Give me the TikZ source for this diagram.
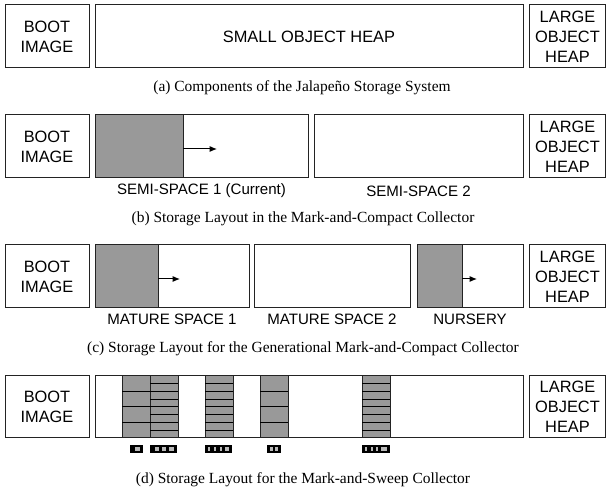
\documentclass[tikz,border=0pt]{standalone}
\usepackage{fontspec}
\setmainfont{Liberation Serif}
\newfontfamily\arialf{Liberation Sans}
\usetikzlibrary{arrows.meta}
\definecolor{fillgrey}{RGB}{153,153,153}
\definecolor{edge}{RGB}{35,35,35}
\definecolor{slit}{RGB}{185,185,185}
\begin{document}
\begin{tikzpicture}[x=0.75pt,y=-0.75pt,
  box/.style={draw=edge, line width=0.75pt, fill=white},
  greyfill/.style={fill=fillgrey, draw=edge, line width=0.75pt},
  txt/.style={font=\arialf\fontsize{12.3}{15}\selectfont, align=center, inner sep=0pt},
  lbl/.style={font=\arialf\fontsize{11.3}{13}\selectfont, inner sep=0pt},
  captxt/.style={font=\fontsize{11.6}{14}\selectfont, inner sep=0pt},
  arr/.style={-{Latex[length=5.5pt,width=4.5pt]}, line width=0.75pt},
  cellline/.style={draw=black, line width=0.75pt},
  markbar/.style={fill=black},
  markslit/.style={fill=slit}
]
\useasboundingbox (0,0) rectangle (607,491);

% (a)
\path[box] (5,5) rectangle (89,68);
\node[txt] (bootA) at (47,36.5) {BOOT\\IMAGE};
\path[box] (95,5) rectangle (523,68);
\node[txt] (smallA) at (309,36.5) {SMALL OBJECT HEAP};
\path[box] (529,5) rectangle (605.5,68);
\node[txt] (largeA) at (567.5,36.5) {LARGE\\OBJECT\\HEAP};
\node[captxt] (capA) at (302,88) {(a) Components of the Jalapeño Storage System};

% (b)
\path[box] (5,115) rectangle (89,178);
\node[txt] (bootB) at (47,146.5) {BOOT\\IMAGE};
\path[box] (95,115) rectangle (308,178);
\path[greyfill] (95,115) rectangle (183,178);
\coordinate (arrBs) at (183,149);
\coordinate (arrBe) at (217,149);
\draw[arr] (arrBs) -- (arrBe);
\path[box] (314,115) rectangle (523,178);
\path[box] (529,115) rectangle (605.5,178);
\node[txt] (largeB) at (567.5,146.5) {LARGE\\OBJECT\\HEAP};
\node[lbl] (semi1) at (201.5,191) {SEMI-SPACE 1 (Current)};
\node[lbl] (semi2) at (418.5,191) {SEMI-SPACE 2};
\node[captxt] (capB) at (303,219) {(b) Storage Layout in the Mark-and-Compact Collector};

% (c)
\path[box] (5,245) rectangle (89,308);
\node[txt] (bootC) at (47,276.5) {BOOT\\IMAGE};
\path[box] (95,245) rectangle (249,308);
\path[greyfill] (95,245) rectangle (158,308);
\coordinate (arrCs) at (158,279);
\coordinate (arrCe) at (180,279);
\draw[arr] (arrCs) -- (arrCe);
\path[box] (254,245) rectangle (410,308);
\path[box] (417,245) rectangle (523,308);
\path[greyfill] (417,245) rectangle (462,308);
\coordinate (arrNs) at (462,279);
\coordinate (arrNe) at (477,279);
\draw[arr] (arrNs) -- (arrNe);
\path[box] (529,245) rectangle (605.5,308);
\node[txt] (largeC) at (567.5,276.5) {LARGE\\OBJECT\\HEAP};
\node[lbl] (mat1) at (172,319) {MATURE SPACE 1};
\node[lbl] (mat2) at (332,319) {MATURE SPACE 2};
\node[lbl] (nurs) at (470,319) {NURSERY};
\node[captxt] (capC) at (303,349) {(c) Storage Layout for the Generational Mark-and-Compact Collector};

% (d)
\path[box] (5,376) rectangle (89,438);
\node[txt] (bootD) at (47,407) {BOOT\\IMAGE};
\path[box] (95,376) rectangle (523,438);
\path[box] (529,376) rectangle (605.5,438);
\node[txt] (largeD) at (567.5,407) {LARGE\\OBJECT\\HEAP};
\foreach \xl/\n in {122/4, 150/8, 205/8, 260/4, 362/8}{
  \path[greyfill] (\xl,376) rectangle (\xl+28,438);
  \pgfmathsetmacro{\h}{62/\n}
  \pgfmathtruncatemacro{\nn}{\n-1}
  \foreach \k in {1,...,\nn}{
    \draw[cellline] (\xl,376+\k*\h) -- (\xl+28,376+\k*\h);
  }
}
\path[markbar] (130,445.5) rectangle (143,453);
\path[markslit] (135,447.5) rectangle (140,451.5);
\path[markbar] (150,445.5) rectangle (177,453);
\path[markslit] (155,447.5) rectangle (159,451.5);
\path[markslit] (162,447.5) rectangle (166,451.5);
\path[markslit] (169,447.5) rectangle (174,451.5);
\path[markbar] (205,445.5) rectangle (232,453);
\foreach \s in {208,214,220}{\path[markslit] (\s,447.5) rectangle (\s+2,451.5);}
\path[markslit] (225,447.5) rectangle (229,451.5);
\path[markbar] (267,445.5) rectangle (281,453);
\foreach \s in {270,275}{\path[markslit] (\s,447.5) rectangle (\s+2.5,451.5);}
\path[markbar] (362,445.5) rectangle (390,453);
\foreach \s in {365,371,376}{\path[markslit] (\s,447.5) rectangle (\s+2,451.5);}
\path[markslit] (381,447.5) rectangle (387,451.5);
\node[captxt] (capD) at (303,480) {(d) Storage Layout for the Mark-and-Sweep Collector};
\end{tikzpicture}
\end{document}
